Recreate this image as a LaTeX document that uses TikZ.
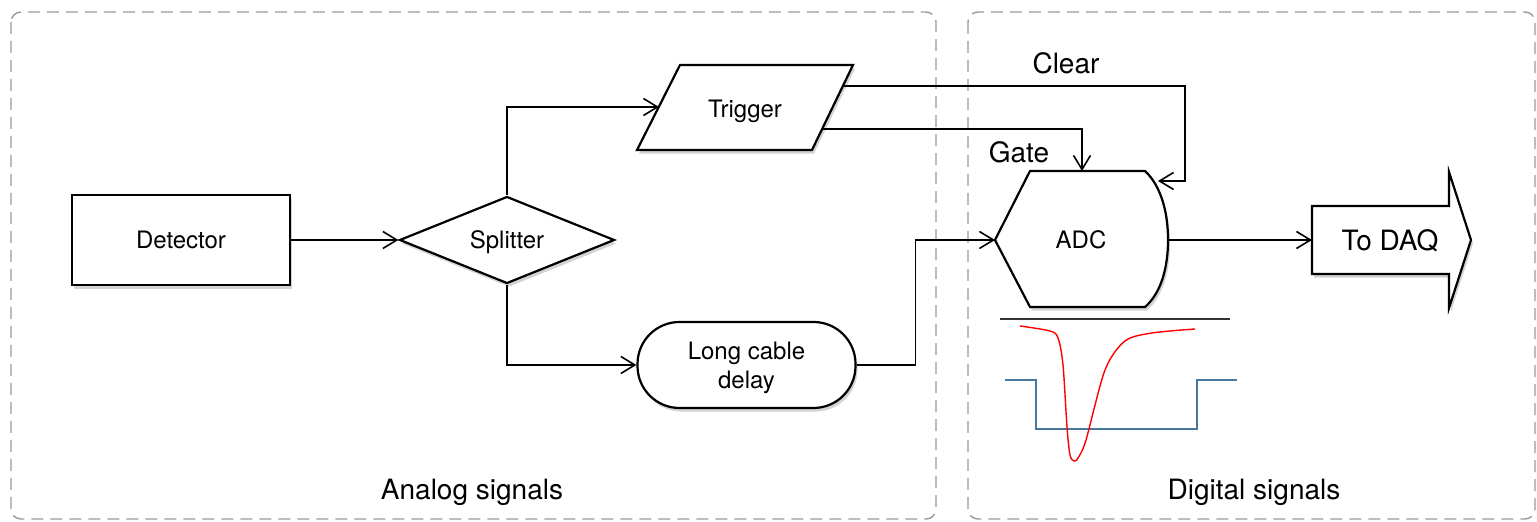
\documentclass[tikz,border=0pt]{standalone}
\usepackage{fontspec}
\setmainfont{TeX Gyre Heros}
\usetikzlibrary{shapes.geometric,arrows.meta,shadows,calc}
\begin{document}
\begin{tikzpicture}[x=0.5pt,y=-0.5pt,
  box/.style={draw, line width=1.1pt, fill=white,
    drop shadow={shadow xshift=1pt,shadow yshift=-1.8pt,opacity=0.35}},
  conn/.style={line width=0.8pt,-{Straight Barb[length=7pt,width=8.5pt,line width=0.8pt]}},
  region/.style={draw=gray!80,line width=0.7pt,dash pattern=on 6pt off 3.5pt,rounded corners=5pt},
  lbl/.style={font=\fontsize{14}{16}\selectfont, anchor=base, inner sep=0pt},
  txt/.style={font=\fontsize{12}{14.5}\selectfont, align=center, text depth=0pt},
  wave/.style={line width=0.6pt}]
\useasboundingbox (0,0) rectangle (1537,522);

% regions
\draw[region] (11,12) rectangle (936,519);
\draw[region] (968,12) rectangle (1535,519);

% nodes
\node[box, txt, minimum width=109pt, minimum height=45pt] (det) at (181,240) {Detector};
\node[box, diamond, txt, minimum width=107.5pt, minimum height=43.5pt, inner sep=0pt, aspect=2.47] (spl) at (507,240) {Splitter};

\draw[box] (680,65) -- (853,65) -- (812,150) -- (637,150) -- cycle;
\node[txt] (trig) at (745,109) {Trigger};
\coordinate (trigIn) at (659,107);
\coordinate (trigClr) at (843,86);
\coordinate (trigGate) at (822,129);

\node[box, txt, rounded corners=21pt, minimum width=109pt, minimum height=43pt] (cab) at (746.5,365) {Long cable\\delay};

\draw[box] (995,240) -- (1030,171) -- (1145,171)
  .. controls (1161,186) and (1168,212) .. (1168,240)
  .. controls (1168,268) and (1161,293) .. (1145,307) -- (1030,307) -- cycle;
\node[txt] (adc) at (1081,240) {ADC};
\coordinate (adcIn) at (995,240);
\coordinate (adcTop) at (1082,171);
\coordinate (adcClr) at (1158,181);
\coordinate (adcOut) at (1168,240);

\draw[box] (1312,206) -- (1449,206) -- (1449,172) -- (1471,240) -- (1449,308) -- (1449,274) -- (1312,274) -- cycle;
\node[txt, font=\fontsize{14}{16}\selectfont] (daq) at (1390,240) {To DAQ};
\coordinate (daqIn) at (1312,240);

% connectors
\draw[conn] (det.east) -- (spl.west);
\draw[conn] (spl.north) |- (trigIn);
\draw[conn] (spl.south) |- (cab.west);
\draw[conn] (cab.east) -- ++(59,0) |- (adcIn);
\draw[conn] (trigClr) -- ++(342,0) |- (adcClr);
\draw[conn] (trigGate) -| (adcTop);
\draw[conn] (adcOut) -- (daqIn);

% labels
\node[lbl] (clear) at (1066,74) {Clear};
\node[lbl] (gate) at (1019,163) {Gate};
\node[lbl] (analog) at (472,500) {Analog signals};
\node[lbl] (digital) at (1254,500) {Digital signals};

% waveforms
\draw[wave, black!80] (1000,319) -- (1230,319);
\draw[wave, draw={rgb,255:red,70;green,120;blue,160}] (1005,380) -- (1036,380) -- (1036,429) -- (1197,429) -- (1197,380) -- (1237,380);
\draw[wave, red, line width=0.7pt] plot[smooth, tension=0.5] coordinates {(1020,326) (1050,331) (1058,338) (1063,365) (1067,427) (1070,455) (1074,461) (1078,458) (1086,440) (1105,370) (1125,341) (1152,333) (1195,329)};
\end{tikzpicture}
\end{document}
